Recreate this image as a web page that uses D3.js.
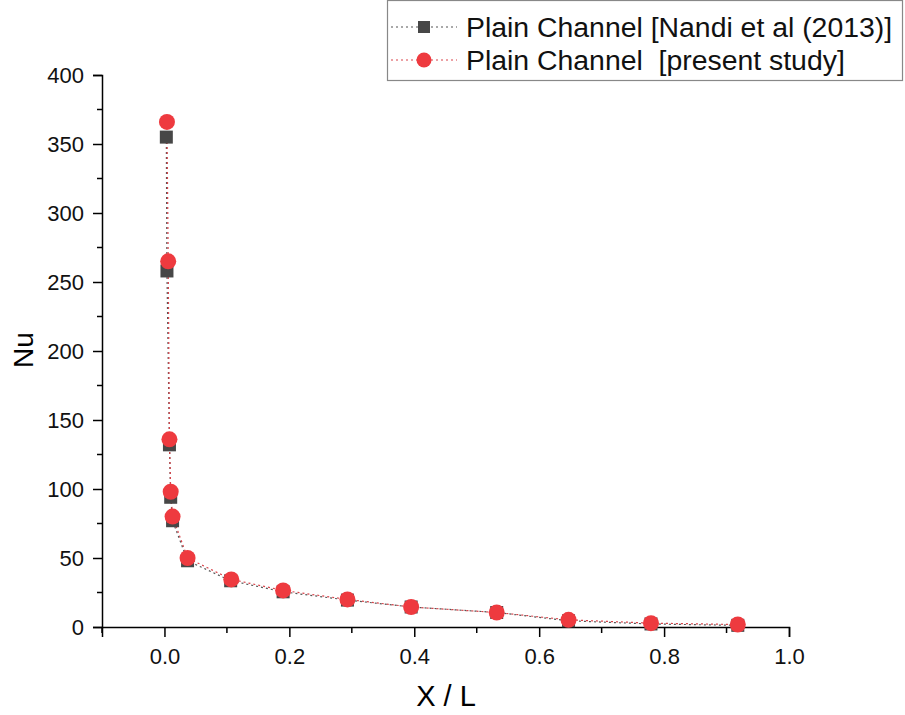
<!DOCTYPE html>
<html>
<head>
<meta charset="utf-8">
<script src="https://cdn.jsdelivr.net/npm/d3@7"></script>
<style>
  body { margin: 0; background: #fff; }
  text { font-family: "Liberation Sans", Arial, sans-serif; }
</style>
</head>
<body>
<svg id="chart" width="905" height="715"></svg>
<script>
// X / L positions
var xNandi = [0.003, 0.004, 0.008, 0.010, 0.013, 0.037, 0.106, 0.190, 0.293, 0.395, 0.532, 0.647, 0.779, 0.918];
var nuNandi = [355, 258, 132, 94, 77, 48, 33.5, 25.5, 19.5, 14.5, 10.5, 4.5, 2.2, 1.2];
var xStudy = [0.004, 0.006, 0.008, 0.010, 0.013, 0.037, 0.107, 0.190, 0.293, 0.395, 0.532, 0.647, 0.779, 0.918];
var nuStudy = [366, 265, 136, 98, 80, 50, 34.5, 26.5, 20, 14.5, 10.5, 5.2, 2.8, 1.8];
var legendLabels = ["Plain Channel [Nandi et al (2013)]", "Plain Channel  [present study]"];
var xTicks = [0.0, 0.2, 0.4, 0.6, 0.8, 1.0];
var yTicks = [0, 50, 100, 150, 200, 250, 300, 350, 400];

var svg = d3.select("#chart");
var x = d3.scaleLinear().domain([-0.1, 1.0]).range([102, 789]);
var y = d3.scaleLinear().domain([0, 400]).range([627, 75]);

// minor ticks
var xMinor = [-0.1, 0.1, 0.3, 0.5, 0.7, 0.9];
var yMinor = d3.range(25, 400, 50);

var gx = svg.append("g").attr("transform", "translate(0,627)");
gx.call(d3.axisBottom(x).tickValues(xTicks).tickFormat(d3.format(".1f")).tickSizeOuter(0).tickSize(10).tickPadding(11));
gx.append("g").selectAll("line").data(xMinor).enter().append("line")
  .attr("x1", function(d){ return x(d); }).attr("x2", function(d){ return x(d); })
  .attr("y1", 0).attr("y2", 6).attr("stroke", "#000").attr("stroke-width", 1.5);

var gy = svg.append("g").attr("transform", "translate(102,0)");
gy.call(d3.axisLeft(y).tickValues(yTicks).tickSizeOuter(0).tickSize(9).tickPadding(9));
gy.append("g").selectAll("line").data(yMinor).enter().append("line")
  .attr("y1", function(d){ return y(d); }).attr("y2", function(d){ return y(d); })
  .attr("x1", 0).attr("x2", -5).attr("stroke", "#000").attr("stroke-width", 1.5);

[gx, gy].forEach(function(g){
  g.select(".domain").attr("stroke-width", 1.5);
  g.selectAll(".tick line").attr("stroke-width", 1.5);
  g.selectAll(".tick text").attr("font-size", 22).attr("fill", "#111")
    .style("font-family", "'Liberation Sans', Arial, sans-serif");
});

svg.append("text").attr("x", 446).attr("y", 706).attr("text-anchor", "middle")
  .attr("font-size", 29).text("X / L");
svg.append("text").attr("transform", "translate(33,350) rotate(-90)").attr("text-anchor", "middle")
  .attr("font-size", 28).text("Nu");

var line = d3.line().x(function(d){ return x(d[0]); }).y(function(d){ return y(d[1]); });
var dataNandi = d3.zip(xNandi, nuNandi);
var dataStudy = d3.zip(xStudy, nuStudy);

svg.append("path").datum(dataNandi).attr("d", line).attr("fill", "none")
  .attr("stroke", "#555").attr("stroke-width", 1.2).attr("stroke-dasharray", "2,3");
svg.append("path").datum(dataStudy).attr("d", line).attr("fill", "none")
  .attr("stroke", "#d9434a").attr("stroke-width", 1.2).attr("stroke-dasharray", "2,3");

svg.append("g").selectAll("rect").data(dataNandi).enter().append("rect")
  .attr("x", function(d){ return x(d[0]) - 6.5; }).attr("y", function(d){ return y(d[1]) - 6.5; })
  .attr("width", 13).attr("height", 13).attr("fill", "#474747");
svg.append("g").selectAll("circle").data(dataStudy).enter().append("circle")
  .attr("cx", function(d){ return x(d[0]); }).attr("cy", function(d){ return y(d[1]); })
  .attr("r", 8).attr("fill", "#ee3a3f");

// legend
var lg = svg.append("g");
lg.append("rect").attr("x", 387.5).attr("y", 0.5).attr("width", 515).attr("height", 80)
  .attr("fill", "#fff").attr("stroke", "#888").attr("stroke-width", 1.2);
var rows = [{c: "#555", mk: "square", fill: "#474747"}, {c: "#d9434a", mk: "circle", fill: "#ee3a3f"}];
rows.forEach(function(r, i){
  var cy = 27 + i * 33;
  lg.append("line").attr("x1", 391).attr("x2", 457).attr("y1", cy).attr("y2", cy)
    .attr("stroke", r.c).attr("stroke-width", 1.2).attr("stroke-dasharray", "2,3");
  if (r.mk === "square") {
    lg.append("rect").attr("x", 418).attr("y", cy - 6).attr("width", 12).attr("height", 12).attr("fill", r.fill);
  } else {
    lg.append("circle").attr("cx", 424).attr("cy", cy).attr("r", 7.5).attr("fill", r.fill);
  }
  lg.append("text").attr("x", 466).attr("y", cy + 9.5).attr("font-size", 28.4).attr("fill", "#111")
    .style("white-space", "pre").text(legendLabels[i]);
});
</script>
</body>
</html>
